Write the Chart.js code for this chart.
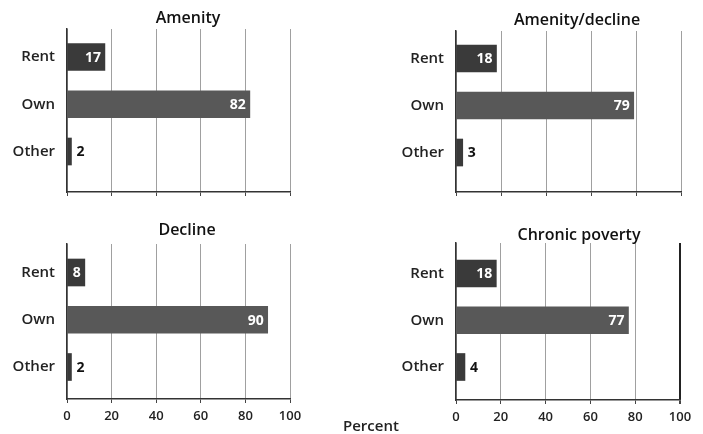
<!DOCTYPE html>
<html>
<head>
<meta charset="utf-8">
<script src="https://cdn.jsdelivr.net/npm/chart.js@4"></script>
<style>
  body { margin: 0; background: #fff; }
  #wrap { position: relative; width: 703px; height: 434px; font-family: "Open Sans", sans-serif; }
  #wrap canvas { position: absolute; }
  #xlabel { position: absolute; left: 343px; top: 415px; font-size: 15px; font-weight: 600; color: #222; }
</style>
</head>
<body>
<div id="wrap">
  <canvas id="c1" width="350" height="217" style="left:0;top:0"></canvas>
  <canvas id="c2" width="353" height="217" style="left:350px;top:0"></canvas>
  <canvas id="c3" width="350" height="217" style="left:0;top:217px"></canvas>
  <canvas id="c4" width="353" height="217" style="left:350px;top:217px"></canvas>
  <div id="xlabel">Percent</div>
</div>
<script>
const categories = ["Rent", "Own", "Other"];
const titles = ["Amenity", "Amenity/decline", "Decline", "Chronic poverty"];
const amenity = [17, 82, 2];
const amenityDecline = [18, 79, 3];
const decline = [8, 90, 2];
const chronicPoverty = [18, 77, 4];
const xTicks = [0, 20, 40, 60, 80, 100];

const series = [amenity, amenityDecline, decline, chronicPoverty];

// chart area of each panel, in canvas pixels
const panels = [
  { id: "c1", left: 67, right: 290, top: 29, bottom: 192, tx: 188, ty: 18, ymin: -0.593, ymax: 2.857, ticks: false },
  { id: "c2", left: 106, right: 331, top: 31, bottom: 192, tx: 227, ty: 20, ymin: -0.585, ymax: 2.84, ticks: false },
  { id: "c3", left: 67, right: 290, top: 27, bottom: 182, tx: 187, ty: 13, ymin: -0.603, ymax: 2.677, ticks: true },
  { id: "c4", left: 106, right: 330, top: 26, bottom: 183, tx: 229, ty: 18, ymin: -0.652, ymax: 2.706, ticks: true, darkMax: true }
];

const barColors = ["#3a3a3a", "#585858", "#3a3a3a"];

const panelText = {
  id: "panelText",
  afterDatasetsDraw(chart, args, opts) {
    const ctx = chart.ctx;
    ctx.save();
    ctx.font = "600 16px 'Open Sans'";
    ctx.fillStyle = "#111";
    ctx.textAlign = "center";
    ctx.textBaseline = "middle";
    ctx.fillText(opts.title, opts.tx, opts.ty);

    ctx.font = "700 14px 'Open Sans'";
    const meta = chart.getDatasetMeta(0);
    meta.data.forEach((bar, i) => {
      const v = chart.data.datasets[0].data[i].x;
      if (v >= 8) {
        ctx.fillStyle = "#fff";
        ctx.textAlign = "right";
        ctx.fillText(v, bar.x - 4, bar.y + 1);
      } else {
        ctx.fillStyle = "#111";
        ctx.textAlign = "left";
        ctx.fillText(v, bar.x + 5, bar.y + 1);
      }
    });
    ctx.restore();
  }
};

panels.forEach((p, k) => {
  const canvas = document.getElementById(p.id);
  const vals = series[k];
  new Chart(canvas, {
    type: "bar",
    data: {
      datasets: [{
        data: categories.map((c, i) => ({ x: vals[i], y: i })),
        backgroundColor: barColors,
        barThickness: 27
      }]
    },
    options: {
      indexAxis: "y",
      responsive: false,
      animation: false,
      devicePixelRatio: 1,
      layout: { padding: { left: 0, right: canvas.width - p.right, top: p.top, bottom: 0 } },
      plugins: {
        legend: { display: false },
        tooltip: { enabled: false },
        panelText: { title: titles[k], tx: p.tx, ty: p.ty }
      },
      scales: {
        x: {
          type: "linear",
          min: 0,
          max: 100,
          afterBuildTicks: (s) => { s.ticks = xTicks.map(v => ({ value: v })); },
          afterFit: (s) => { s.height = canvas.height - p.bottom; },
          grid: {
            color: (c) => (p.darkMax && c.tick && c.tick.value === 100) ? "#222" : "#a0a0a0",
            lineWidth: (c) => (p.darkMax && c.tick && c.tick.value === 100) ? 2 : 1,
            drawTicks: true,
            tickLength: 4,
            tickColor: "#444"
          },
          border: { display: true, color: "#333", width: 1.5 },
          ticks: {
            display: p.ticks,
            padding: 5,
            color: "#222",
            font: { family: "'Open Sans'", size: 13, weight: "600" }
          }
        },
        y: {
          type: "linear",
          reverse: true,
          offset: false,
          min: p.ymin,
          max: p.ymax,
          afterBuildTicks: (s) => { s.ticks = categories.map((c, i) => ({ value: i })); },
          afterFit: (s) => { s.width = p.left; },
          grid: { display: false, drawTicks: false },
          border: { display: true, color: "#333", width: 1.5 },
          ticks: {
            padding: 12,
            color: "#222",
            font: { family: "'Open Sans'", size: 15, weight: "600" },
            callback: (v) => categories[v]
          }
        }
      }
    },
    plugins: [panelText]
  });
});
</script>
</body>
</html>
